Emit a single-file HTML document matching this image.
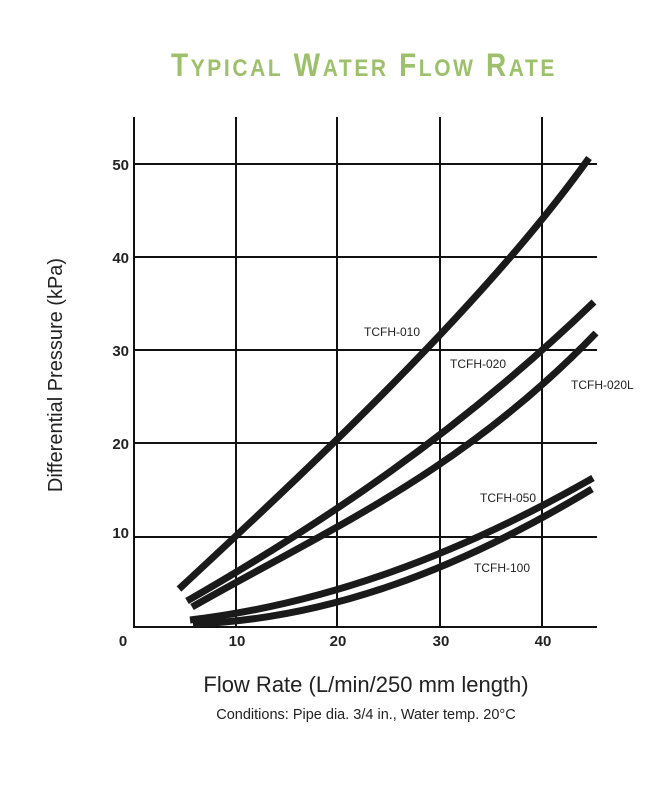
<!DOCTYPE html>
<html><head><meta charset="utf-8"><style>
body{margin:0;background:#fff;}
svg{display:block;}
</style></head><body>
<svg width="653" height="792" viewBox="0 0 653 792" xmlns="http://www.w3.org/2000/svg">
<text x="364" y="76" text-anchor="middle" fill="#9dc06a" font-family="Liberation Sans Narrow, Liberation Sans, sans-serif" font-weight="bold" font-size="32" letter-spacing="3" textLength="386" lengthAdjust="spacingAndGlyphs">T<tspan font-size="24">YPICAL</tspan> W<tspan font-size="24">ATER</tspan> F<tspan font-size="24">LOW</tspan> R<tspan font-size="24">ATE</tspan></text>
<g stroke="#111" stroke-width="2">
<line x1="134" y1="117" x2="134" y2="628"/>
<line x1="236" y1="117" x2="236" y2="628"/>
<line x1="337" y1="117" x2="337" y2="628"/>
<line x1="440" y1="117" x2="440" y2="628"/>
<line x1="542" y1="117" x2="542" y2="628"/>
<line x1="134" y1="164" x2="597" y2="164"/>
<line x1="134" y1="257" x2="597" y2="257"/>
<line x1="134" y1="350" x2="597" y2="350"/>
<line x1="134" y1="443" x2="597" y2="443"/>
<line x1="134" y1="537" x2="597" y2="537"/>
<line x1="134" y1="627" x2="597" y2="627"/>
</g>
<g fill="none" stroke="#1a1a1a" stroke-width="7">
<path d="M179,589 C305,472 484,305 589,158"/>
<path d="M187,601 C323,523 458,433 594,302"/>
<path d="M192,607 C327,530 461,473 596,333"/>
<path d="M190,620 C325,604 458,555 593,478"/>
<path d="M193,624 C328,619 458,570 592,489"/>
</g>
<g font-family="Liberation Sans, sans-serif" font-size="12" fill="#222">
<text x="364" y="336">TCFH-010</text>
<text x="450" y="368">TCFH-020</text>
<text x="571" y="389">TCFH-020L</text>
<text x="480" y="502">TCFH-050</text>
<text x="474" y="572">TCFH-100</text>
</g>
<g font-family="Liberation Sans, sans-serif" font-size="15" font-weight="bold" fill="#222" text-anchor="end">
<text x="129" y="170">50</text>
<text x="129" y="263">40</text>
<text x="129" y="356">30</text>
<text x="129" y="449">20</text>
<text x="129" y="538">10</text>
</g>
<g font-family="Liberation Sans, sans-serif" font-size="15" font-weight="bold" fill="#222" text-anchor="middle">
<text x="123" y="646">0</text>
<text x="237" y="646">10</text>
<text x="338" y="646">20</text>
<text x="441" y="646">30</text>
<text x="543" y="646">40</text>
</g>
<text transform="translate(62,375) rotate(-90)" text-anchor="middle" font-family="Liberation Sans, sans-serif" font-size="20" fill="#222">Differential Pressure (kPa)</text>
<text x="366" y="692" text-anchor="middle" font-family="Liberation Sans, sans-serif" font-size="22" fill="#222">Flow Rate (L/min/250 mm length)</text>
<text x="366" y="719" text-anchor="middle" font-family="Liberation Sans, sans-serif" font-size="14.5" fill="#222">Conditions: Pipe dia. 3/4 in., Water temp. 20°C</text>
</svg>
</body></html>
